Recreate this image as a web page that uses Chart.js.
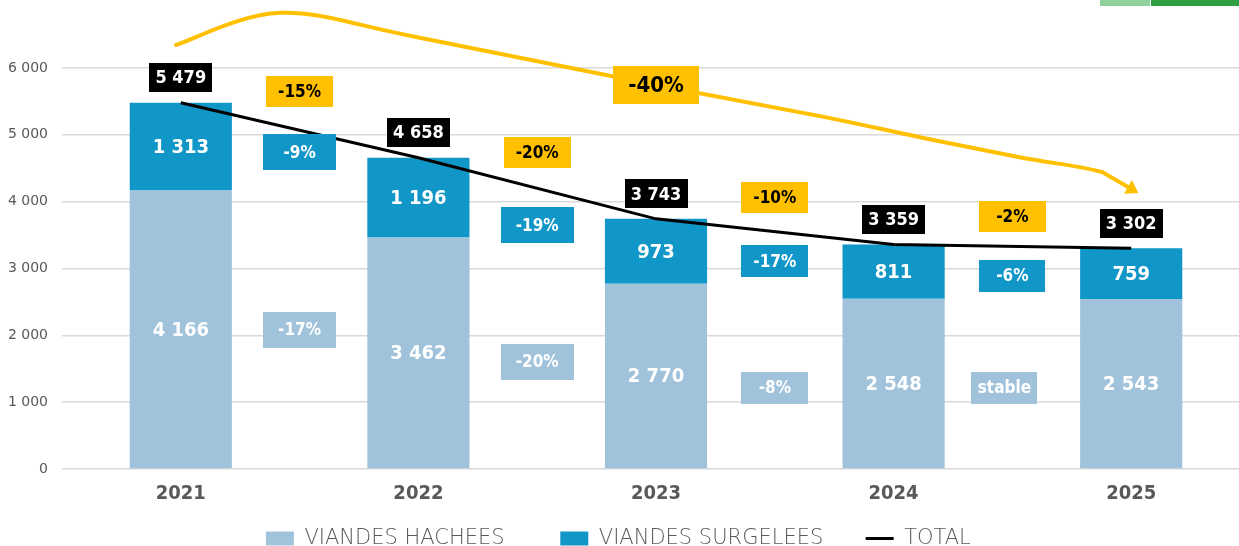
<!DOCTYPE html>
<html lang="fr">
<head>
<meta charset="UTF-8">
<title>Viandes hachées et surgelées</title>
<script src="https://cdn.jsdelivr.net/npm/chart.js"></script>
<style>
  html, body { margin: 0; padding: 0; background: #fff; overflow: hidden; }
  #wrap { position: relative; width: 1250px; height: 559px; }
</style>
</head>
<body>
<div id="wrap"><canvas id="graph"></canvas></div>
<script>
// données
const annees = ['2021', '2022', '2023', '2024', '2025'];
const hachees = [4166, 3462, 2770, 2548, 2543];
const surgelees = [1313, 1196, 973, 811, 759];
const total = [5479, 4658, 3743, 3359, 3302];

// évolutions d'une année sur l'autre
const evolTotal = ['-15%', '-20%', '-10%', '-2%'];
const evolSurgelees = ['-9%', '-19%', '-17%', '-6%'];
const evolHachees = ['-17%', '-20%', '-8%', 'stable'];
const evolGlobale = '-40%';

// hauteur des étiquettes d'évolution (en tonnes, sur l'axe y)
const posTotal = [5650, 4740, 4065, 3780];
const posSurg = [4740, 3645, 3105, 2895];
const posHach = [2085, 1605, 1215, 1215];
const largeurs = [73, 73, 67, 66];

// tracé de la flèche jaune (index d'année, valeur)
const fleche = [[-0.02, 6345], [0.42, 6825], [0.99, 6465], [2.0, 5745], [2.69, 5280],
                [3.11, 4965], [3.53, 4665], [3.88, 4440], [4.03, 4130]];

const COND = "'DejaVu Sans Condensed', 'DejaVu Sans', sans-serif";
const GRIS = '#595959';
const JAUNE = '#FFC000';
const BLEU = '#1196C8';
const BLEU_CLAIR = '#A0C3DB';

function fmt(v) {
    return String(v).replace(/\B(?=(\d{3})+(?!\d))/g, ' ');
}

function boite(ctx, cx, cy, w, h, fond, texte, couleur, police) {
    ctx.fillStyle = fond;
    ctx.fillRect(Math.round(cx - w / 2), Math.round(cy - h / 2), w, h);
    ctx.fillStyle = couleur;
    ctx.font = police;
    ctx.textAlign = 'center';
    ctx.textBaseline = 'middle';
    ctx.fillText(texte, cx, cy + 1);
}

const etiquettes = {
    id: 'etiquettes',
    afterDatasetsDraw(chart) {
        const ctx = chart.ctx;
        const x = chart.scales.x, y = chart.scales.y;
        ctx.save();

        // flèche -40%
        const pts = fleche.map(p => [x.getPixelForValue(p[0]), y.getPixelForValue(p[1])]);
        ctx.strokeStyle = JAUNE;
        ctx.lineWidth = 4;
        ctx.lineCap = 'round';
        ctx.beginPath();
        ctx.moveTo(pts[0][0], pts[0][1]);
        for (let i = 0; i < pts.length - 2; i++) {
            const p0 = pts[i - 1] || pts[i], p1 = pts[i], p2 = pts[i + 1], p3 = pts[i + 2] || p2;
            const c1 = [p1[0] + (p2[0] - p0[0]) / 6, p1[1] + (p2[1] - p0[1]) / 6];
            const c2 = [p2[0] - (p3[0] - p1[0]) / 6, p2[1] - (p3[1] - p1[1]) / 6];
            ctx.bezierCurveTo(c1[0], c1[1], c2[0], c2[1], p2[0], p2[1]);
        }
        const tip = pts[pts.length - 1], av = pts[pts.length - 2];
        const ang = Math.atan2(tip[1] - av[1], tip[0] - av[0]);
        const bx = tip[0] - 12 * Math.cos(ang), by = tip[1] - 12 * Math.sin(ang);
        ctx.lineTo(bx, by);
        ctx.stroke();
        ctx.fillStyle = JAUNE;
        ctx.beginPath();
        ctx.moveTo(tip[0], tip[1]);
        ctx.lineTo(bx + 8 * Math.sin(ang), by - 8 * Math.cos(ang));
        ctx.lineTo(bx - 8 * Math.sin(ang), by + 8 * Math.cos(ang));
        ctx.closePath();
        ctx.fill();
        boite(ctx, x.getPixelForValue(2), y.getPixelForValue(5745), 86, 38, JAUNE, evolGlobale, '#000', 'bold 22px ' + COND);

        // valeurs dans les barres
        ctx.textAlign = 'center';
        ctx.textBaseline = 'middle';
        [0, 1].forEach(d => {
            chart.getDatasetMeta(d).data.forEach((bar, i) => {
                ctx.fillStyle = '#fff';
                ctx.font = 'bold 20px ' + COND;
                ctx.fillText(fmt(chart.data.datasets[d].data[i]), bar.x, (bar.y + bar.base) / 2 + 1);
            });
        });

        // évolutions entre deux années
        for (let i = 0; i < 4; i++) {
            const cx = x.getPixelForValue(i + 0.5);
            const h = largeurs[i] > 70 ? 36 : 32;
            boite(ctx, cx, y.getPixelForValue(posTotal[i]), 67, 31, JAUNE, evolTotal[i], '#000', 'bold 17px ' + COND);
            boite(ctx, cx, y.getPixelForValue(posSurg[i]), largeurs[i], h, BLEU, evolSurgelees[i], '#fff', 'bold 17px ' + COND);
            const dx = evolHachees[i] === 'stable' ? -8 : 0;
            boite(ctx, cx + dx, y.getPixelForValue(posHach[i]), largeurs[i], h, BLEU_CLAIR, evolHachees[i], '#fff', 'bold 17px ' + COND);
        }

        // totaux
        chart.getDatasetMeta(2).data.forEach((pt, i) => {
            ctx.font = 'bold 18px ' + COND;
            const w = ctx.measureText(fmt(total[i])).width + 12;
            boite(ctx, pt.x, pt.y - 25, Math.round(w), 29, '#000', fmt(total[i]), '#fff', 'bold 18px ' + COND);
        });

        // bandeau vert en haut à droite
        ctx.fillStyle = '#8fd19a';
        ctx.fillRect(1100, 0, 50, 6);
        ctx.fillStyle = '#2ea043';
        ctx.fillRect(1151, 0, 88, 6);
        ctx.restore();
    }
};

const ctx = document.getElementById('graph');
new Chart(ctx, {
    type: 'bar',
    data: {
        labels: annees,
        datasets: [{
            label: 'VIANDES HACHEES',
            data: hachees,
            backgroundColor: BLEU_CLAIR,
            stack: 'v',
            order: 1
        }, {
            label: 'VIANDES SURGELEES',
            data: surgelees,
            backgroundColor: BLEU,
            stack: 'v',
            order: 1
        }, {
            type: 'line',
            label: 'TOTAL',
            data: total,
            borderColor: '#000',
            backgroundColor: '#000',
            borderWidth: 3,
            pointRadius: 0,
            tension: 0,
            stack: 't',
            order: 0
        }]
    },
    options: {
        responsive: true,
        maintainAspectRatio: false,
        animation: false,
        categoryPercentage: 1,
        barPercentage: 0.43,
        layout: { padding: { top: 68, left: 0, right: 0, bottom: 0 } },
        scales: {
            x: {
                stacked: true,
                grid: { display: false, drawTicks: false },
                border: { display: false },
                ticks: { color: GRIS, padding: 13, font: { family: COND, size: 20, weight: 'bold' } }
            },
            y: {
                stacked: true,
                min: 0,
                max: 6000,
                grid: { color: '#d9d9d9', lineWidth: 1.5, drawTicks: false },
                border: { display: false },
                ticks: {
                    stepSize: 1000,
                    color: GRIS,
                    padding: 14,
                    font: { family: "'DejaVu Sans', sans-serif", size: 14 },
                    callback: v => fmt(v)
                },
                afterFit(s) { s.width = 62; }
            }
        },
        plugins: {
            tooltip: { enabled: false },
            legend: {
                position: 'bottom',
                labels: {
                    usePointStyle: true,
                    pointStyleWidth: 28,
                    boxHeight: 14,
                    padding: 9,
                    color: GRIS,
                    font: { family: "'DejaVu Sans', sans-serif", size: 21, weight: '200' },
                    sort: (a, b) => a.datasetIndex - b.datasetIndex,
                    generateLabels(chart) {
                        const items = Chart.defaults.plugins.legend.labels.generateLabels(chart);
                        const suffixes = ['       ', '     ', '  '];
                        items.forEach(it => {
                            if (it.datasetIndex === 2) {
                                it.pointStyle = 'line';
                                it.lineWidth = 3;
                                it.strokeStyle = '#000';
                            } else {
                                it.pointStyle = 'rect';
                                it.lineWidth = 0;
                            }
                            it.text = it.text + suffixes[it.datasetIndex];
                        });
                        return items;
                    }
                }
            }
        }
    },
    plugins: [etiquettes]
});
</script>
</body>
</html>
